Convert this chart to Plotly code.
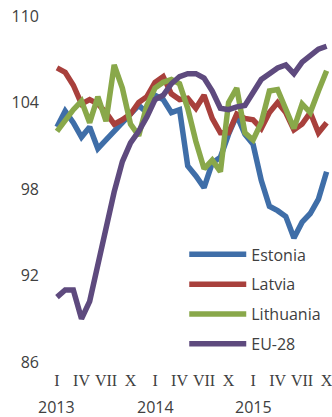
import plotly.graph_objects as go

# Monthly index, January 2013 to October 2015 (2010 = 100)
months = list(range(34))

estonia = [102.3, 103.4, 102.6, 101.6, 102.3, 100.8, 101.4, 102.0, 102.6, 103.2,
           103.8, 103.3, 104.5, 104.2, 103.3, 103.5, 99.6, 98.9, 98.1, 99.8,
           100.2, 101.8, 103.1, 101.8, 101.1, 98.6, 96.8, 96.5, 96.1, 94.6,
           95.7, 96.3, 97.3, 99.2]
latvia = [106.4, 106.1, 105.2, 103.9, 104.2, 103.9, 103.3, 102.5, 102.8, 103.2,
          104.0, 104.4, 105.4, 105.8, 104.6, 104.2, 104.3, 103.6, 104.5, 102.9,
          101.9, 101.9, 103.2, 102.9, 102.8, 102.2, 103.3, 104.0, 103.3, 102.1,
          102.5, 103.3, 101.9, 102.6]
lithuania = [102.0, 102.8, 103.5, 104.1, 102.6, 104.4, 102.7, 106.6, 105.0, 102.5,
             101.7, 103.8, 105.0, 105.4, 105.6, 105.3, 103.6, 101.3, 99.4, 100.0,
             99.2, 104.0, 105.0, 101.9, 101.4, 102.6, 104.8, 104.9, 103.5, 102.2,
             103.9, 103.3, 104.8, 106.2]
eu28 = [90.5, 91.0, 91.0, 89.0, 90.2, 92.8, 95.2, 97.8, 99.9, 101.2,
        102.0, 103.0, 104.2, 104.5, 105.3, 105.8, 106.0, 106.0, 105.7, 104.8,
        103.6, 103.5, 103.7, 103.8, 104.7, 105.6, 106.0, 106.4, 106.6, 106.0,
        106.8, 107.2, 107.7, 107.9]

series_names = ["Estonia", "Latvia", "Lithuania", "EU-28"]
series_colors = ["#3F6EA8", "#A8403C", "#89A84A", "#5E4A7E"]

quarter_ticks = list(range(0, 34, 3))
quarter_labels = ["I", "IV", "VII", "X"] * 3
year_positions = [0, 12, 24]
year_labels = ["2013", "2014", "2015"]

y_ticks = [86, 92, 98, 104, 110]

fig = go.Figure()
for name, values, color in zip(series_names, [estonia, latvia, lithuania, eu28], series_colors):
    fig.add_trace(go.Scatter(
        x=months, y=values, name=name, mode="lines",
        line=dict(color=color, width=5.5),
        legendgroup=name,
    ))

for pos, label in zip(year_positions, year_labels):
    fig.add_annotation(
        x=pos, y=0, xref="x", yref="paper", yanchor="top",
        yshift=-32, text=label, showarrow=False,
        font=dict(family="Open Sans", size=16, color="#404040"),
    )

fig.update_layout(
    width=332, height=417,
    margin=dict(l=40, r=0, t=16, b=55),
    paper_bgcolor="white", plot_bgcolor="white",
    showlegend=True,
    legend=dict(
        x=0.494, y=0.36, xanchor="left", yanchor="top",
        bgcolor="rgba(0,0,0,0)", itemwidth=57,
        tracegroupgap=6,
        font=dict(family="Open Sans", size=16, color="#404040"),
    ),
    xaxis=dict(
        range=[-2.08, 33.66], tickmode="array",
        tickvals=quarter_ticks, ticktext=quarter_labels,
        showgrid=False, zeroline=False, showline=False, ticks="",
        ticklabelstandoff=7, ticklabeloverflow="allow",
        tickfont=dict(family="Liberation Serif", size=16, color="#404040"),
    ),
    yaxis=dict(
        range=[86, 110], tickmode="array", tickvals=y_ticks,
        showgrid=False, zeroline=False, showline=False, ticks="",
        tickfont=dict(family="Open Sans", size=16, color="#404040"),
    ),
)

fig.write_html("out.html")
